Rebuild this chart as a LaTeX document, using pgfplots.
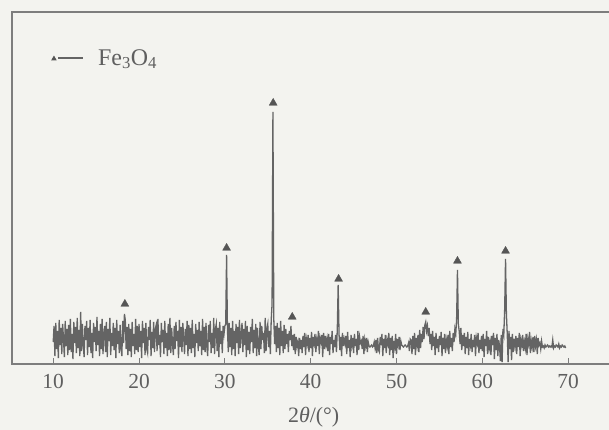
\documentclass[border=0pt]{standalone}
\usepackage{fontspec}
\setmainfont{Liberation Serif}
\usepackage{pgfplots}
\usepackage{pgfplotstable}
\pgfplotsset{compat=1.18}

\definecolor{bgcol}{RGB}{243,243,239}
\definecolor{trace}{RGB}{100,100,100}
\definecolor{mk}{RGB}{85,85,85}
\definecolor{axcol}{RGB}{125,125,125}
\definecolor{txt}{RGB}{95,95,95}

% XRD counts, one row per 0.1 deg from 10.0 to 69.7 (pixel heights above baseline)
\pgfplotstableread[header=false,row sep=\\]{
22\\38\\8\\41\\15\\33\\6\\44\\19\\36\\
10\\40\\25\\7\\43\\18\\35\\9\\39\\14\\
45\\12\\30\\5\\42\\21\\37\\11\\46\\16\\
34\\8\\52\\13\\40\\20\\7\\38\\24\\43\\
9\\36\\17\\44\\11\\31\\6\\41\\22\\37\\
13\\47\\19\\33\\8\\40\\15\\45\\10\\29\\
38\\12\\42\\7\\35\\23\\46\\9\\31\\18\\
41\\14\\36\\6\\44\\20\\33\\11\\39\\16\\
8\\43\\21\\50\\44\\15\\37\\9\\40\\13\\
35\\7\\42\\18\\30\\10\\45\\14\\38\\12\\
40\\17\\33\\6\\43\\21\\36\\9\\41\\15\\
11\\37\\24\\44\\8\\32\\16\\42\\12\\35\\
39\\13\\45\\19\\29\\7\\41\\22\\34\\10\\
43\\16\\31\\8\\40\\14\\46\\11\\36\\20\\
9\\38\\15\\42\\23\\33\\6\\44\\17\\37\\
12\\41\\27\\10\\35\\19\\43\\8\\39\\15\\
36\\11\\44\\16\\30\\7\\40\\21\\34\\13\\
42\\18\\33\\9\\45\\14\\37\\12\\41\\17\\
8\\39\\22\\43\\11\\31\\16\\46\\10\\35\\
40\\13\\36\\7\\42\\20\\33\\11\\38\\30\\
38\\40\\109\\35\\12\\41\\17\\36\\9\\43\\
15\\33\\8\\40\\21\\37\\10\\44\\16\\30\\
41\\12\\35\\19\\43\\7\\38\\14\\32\\10\\
37\\22\\45\\11\\34\\16\\40\\8\\36\\18\\
9\\42\\15\\38\\24\\31\\11\\46\\13\\35\\
40\\17\\33\\10\\44\\60\\252\\45\\20\\38\\
12\\41\\16\\36\\9\\43\\18\\33\\11\\39\\
15\\35\\20\\30\\12\\33\\24\\38\\18\\29\\
14\\30\\10\\27\\18\\22\\8\\26\\15\\24\\
11\\28\\17\\31\\9\\25\\20\\29\\12\\26\\
16\\32\\8\\27\\21\\30\\12\\24\\18\\33\\
10\\26\\22\\29\\7\\31\\15\\28\\19\\25\\
13\\30\\9\\27\\20\\33\\11\\24\\17\\29\\
12\\35\\79\\30\\14\\27\\8\\31\\18\\25\\
20\\28\\10\\32\\16\\24\\7\\29\\19\\26\\
11\\30\\18\\25\\9\\33\\14\\27\\21\\23\\
15\\28\\10\\24\\18\\26\\12\\22\\18\\17\\
18\\19\\17\\18\\22\\16\\24\\11\\26\\14\\
12\\27\\19\\30\\8\\25\\16\\29\\11\\24\\
20\\31\\9\\26\\14\\28\\6\\23\\17\\30\\
10\\25\\19\\27\\14\\23\\19\\18\\17\\18\\
19\\18\\17\\18\\21\\13\\25\\24\\10\\28\\
15\\31\\9\\26\\19\\29\\12\\34\\16\\30\\
22\\37\\25\\39\\42\\33\\38\\28\\36\\20\\
30\\14\\33\\18\\27\\9\\31\\16\\25\\12\\
28\\19\\32\\8\\26\\15\\30\\11\\24\\18\\
29\\10\\33\\17\\26\\13\\31\\22\\35\\30\\
45\\94\\40\\33\\20\\36\\14\\29\\18\\31\\
10\\27\\16\\32\\9\\25\\19\\30\\12\\24\\
17\\29\\8\\26\\21\\31\\11\\24\\15\\28\\
13\\30\\7\\25\\18\\33\\10\\27\\16\\22\\
9\\28\\19\\31\\5\\26\\14\\30\\8\\24\\
18\\3\\29\\2\\35\\30\\55\\105\\50\\30\\
2\\33\\15\\27\\4\\30\\12\\25\\18\\28\\
10\\26\\17\\31\\8\\24\\19\\29\\13\\22\\
16\\30\\9\\25\\20\\32\\11\\23\\17\\27\\
12\\28\\18\\24\\10\\26\\19\\21\\15\\23\\
17\\18\\16\\19\\17\\18\\19\\17\\18\\17\\
18\\17\\24\\16\\18\\17\\19\\18\\17\\20\\
16\\18\\17\\19\\18\\17\\18\\16\\
}\noise

\begin{document}
\begin{tikzpicture}
\path[use as bounding box, fill=bgcol] (-12bp,-66bp) rectangle (597bp,364bp);
\begin{axis}[
  scale only axis,
  width=603.4bp, height=352bp,
  xmin=5.2, xmax=75.5, ymin=0, ymax=352,
  axis line style={draw=axcol, line width=1.1bp},
  xtick={10,20,...,70}, ytick=\empty,
  xtick pos=bottom, tick align=inside,
  major tick length=6bp,
  tick style={draw=axcol, line width=1bp},
  /pgf/number format/assume math mode=true,
  xticklabel style={font=\fontsize{21.5}{22}\selectfont, text=txt, yshift=-7bp},
  xlabel={2\textit{θ}/(°)},
  xlabel style={font=\fontsize{22}{22}\selectfont, text=txt, yshift=-11bp},
  legend style={at={(rel axis cs:0.0646,0.869)}, anchor=west, draw=none, fill=none,
    inner sep=0pt, font=\fontsize{24}{24}\selectfont, text=txt,
    nodes={inner sep=0pt}, /tikz/column sep=0pt},
  legend image code/.code={
    \fill[mk, draw=none] (0bp,-2.2bp) -- (5.5bp,-2.2bp) -- (2.75bp,2.6bp) -- cycle;
    \draw[trace, line width=1.3bp] (7.3bp,0) -- (32.3bp,0);
    \path[draw=none, fill=none] (0,0) -- (47bp,0);
  },
]
\addlegendimage{}
\addlegendentry{Fe\textsubscript{3}O\textsubscript{4}}
\addplot[trace, line width=1.3bp, forget plot] table[x expr=10+0.1*\coordindex, y index=0] {\noise};
\addplot[only marks, mark=triangle*, mark size=4.6bp, mk, forget plot] coordinates {
  (18.35,60) (30.2,116) (35.63,261) (37.85,47) (43.25,85) (53.4,52) (57.1,103) (62.7,113)
};
\end{axis}
\end{tikzpicture}
\end{document}
